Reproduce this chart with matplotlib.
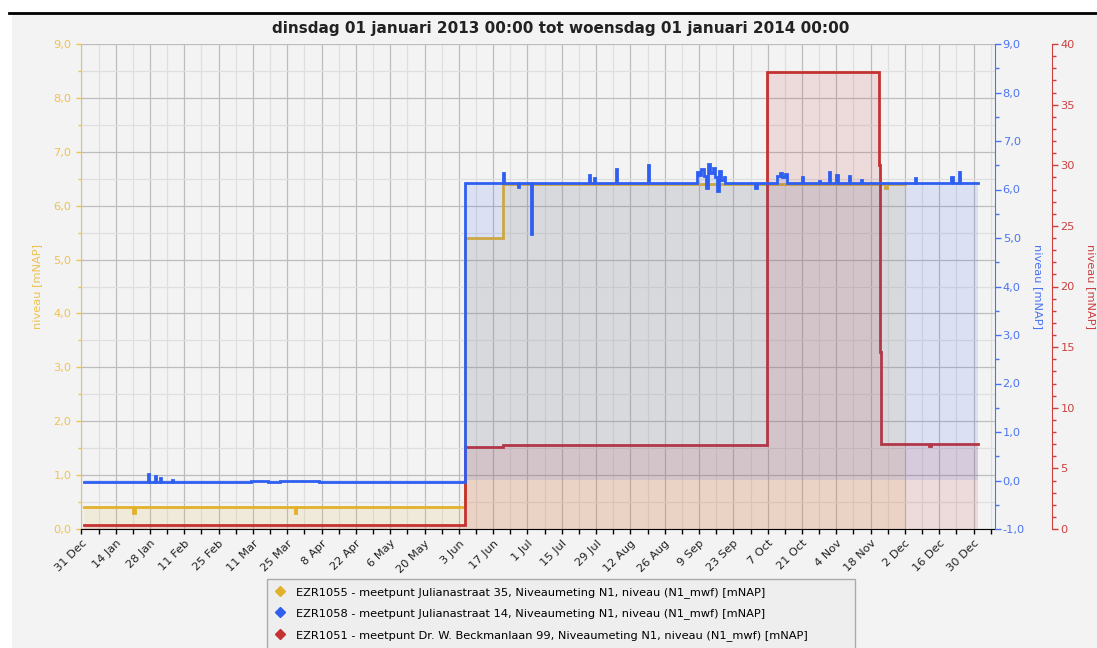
import matplotlib
matplotlib.use("Agg")
import matplotlib.pyplot as plt
import matplotlib.dates as mdates
from matplotlib.ticker import MultipleLocator, FuncFormatter, FixedLocator
from matplotlib.patches import Rectangle
from matplotlib.lines import Line2D
import pandas as pd

plt.rcParams["font.family"] = ["DejaVu Sans"]

TITLE = "dinsdag 01 januari 2013 00:00 tot woensdag 01 januari 2014 00:00"
Y_LABEL = "niveau [mNAP]"
SERIES_NAMES = [
    "EZR1055 - meetpunt Julianastraat 35, Niveaumeting N1, niveau (N1_mwf) [mNAP]",
    "EZR1058 - meetpunt Julianastraat 14, Niveaumeting N1, niveau (N1_mwf) [mNAP]",
    "EZR1051 - meetpunt Dr. W. Beckmanlaan 99, Niveaumeting N1, niveau (N1_mwf) [mNAP]",
]

# --- meetreeksen (stapfunctie: waarde geldt vanaf het tijdstip) ---
yellow_t = ["2013-01-01", "2013-01-21 06:00", "2013-01-21 18:00", "2013-03-28 06:00",
            "2013-03-28 18:00", "2013-06-05 10:00", "2013-06-21 03:00", "2013-11-24 00:00",
            "2013-11-24 12:00", "2013-12-02 00:00"]
yellow_v = [0.40, 0.30, 0.40, 0.30, 0.40, 5.40, 6.40, 6.33, 6.40, 6.40]

blue_t = ["2013-01-01", "2013-01-27 00:00", "2013-01-27 12:00", "2013-01-30 00:00",
          "2013-01-30 12:00", "2013-02-01 00:00", "2013-02-01 12:00", "2013-02-06 00:00",
          "2013-02-06 12:00", "2013-03-10", "2013-03-17", "2013-03-22", "2013-04-07",
          "2013-06-05 10:00", "2013-06-21 00:00", "2013-06-21 12:00", "2013-06-27 00:00",
          "2013-06-27 12:00", "2013-07-02 12:00", "2013-07-02 18:00", "2013-07-26 00:00",
          "2013-07-26 12:00", "2013-07-28 00:00", "2013-07-28 12:00", "2013-08-06 00:00",
          "2013-08-06 12:00", "2013-08-19 00:00", "2013-08-19 12:00", "2013-09-08 00:00",
          "2013-09-09 00:00", "2013-09-10 00:00", "2013-09-11 00:00", "2013-09-12 00:00",
          "2013-09-12 12:00", "2013-09-13 12:00", "2013-09-14 12:00", "2013-09-15 12:00",
          "2013-09-16 12:00", "2013-09-17 00:00", "2013-09-18 00:00", "2013-09-19 00:00",
          "2013-09-19 12:00", "2013-10-02 00:00", "2013-10-02 12:00", "2013-10-11 00:00",
          "2013-10-12 00:00", "2013-10-13 00:00", "2013-10-14 00:00", "2013-10-15 00:00",
          "2013-10-21 00:00", "2013-10-21 12:00", "2013-10-28 00:00", "2013-10-28 12:00",
          "2013-11-01 00:00", "2013-11-01 12:00", "2013-11-04 00:00", "2013-11-04 12:00",
          "2013-11-09 00:00", "2013-11-09 12:00", "2013-11-14 00:00", "2013-11-14 12:00",
          "2013-12-06 00:00", "2013-12-06 12:00", "2013-12-21 00:00", "2013-12-21 12:00",
          "2013-12-24 00:00", "2013-12-24 12:00", "2014-01-01 00:00"]
blue_v = [-0.03, 0.13, -0.03, 0.09, -0.03, 0.05, -0.03, 0.02, -0.03, 0.00, -0.03, 0.00, -0.03,
          6.13, 6.34, 6.13, 6.05, 6.13, 5.08, 6.13, 6.30, 6.13, 6.23, 6.13, 6.42, 6.13, 6.51,
          6.13, 6.36, 6.30, 6.42, 6.28, 6.03, 6.53, 6.35, 6.45, 6.25, 5.97, 6.38, 6.20, 6.25,
          6.13, 6.03, 6.13, 6.28, 6.34, 6.25, 6.32, 6.13, 6.25, 6.13, 6.18, 6.13, 6.36, 6.13,
          6.30, 6.13, 6.28, 6.13, 6.20, 6.13, 6.23, 6.13, 6.25, 6.13, 6.36, 6.13, 6.13]

red_t = ["2013-01-01", "2013-06-05 10:00", "2013-06-21 03:00", "2013-10-06 14:00",
         "2013-11-21 08:00", "2013-11-21 20:00", "2013-11-22 08:00", "2013-12-12 00:00",
         "2013-12-12 12:00", "2014-01-01"]
red_v = [0.33, 6.80, 6.90, 37.7, 30.0, 14.6, 7.0, 6.85, 7.0, 7.0]

YELLOW, YELLOW_AX = "#e2b12c", "#efc250"
BLUE, BLUE_AX = "#2f5ff0", "#4a74f2"
RED, RED_AX = "#c43232", "#cc4040"
BG = "#f3f3f3"

W, H = 1097, 648


def comma(v, _pos):
    return f"{v:.1f}".replace(".", ",")


def day_month(x, _pos):
    d = mdates.num2date(x)
    return f"{d.day} {d.strftime('%b')}"


def draw_series(ax, t, v, color):
    t = pd.to_datetime(t, format="ISO8601").to_numpy()
    ax.fill_between(t, v, 0, step="post", color=color, alpha=0.12, lw=0)
    ax.plot(t, v, drawstyle="steps-post", color=color, lw=2.0, solid_joinstyle="miter")


fig = plt.figure(figsize=(W / 100, H / 100), dpi=100)
fig.patch.set_facecolor("white")
fig.add_artist(Rectangle((12 / W, 0), 1, 1 - 13 / H, transform=fig.transFigure,
                         facecolor=BG, edgecolor="none", zorder=-10))
fig.add_artist(Line2D([9 / W, 1], [1 - 13.3 / H] * 2, transform=fig.transFigure,
                      color="black", lw=2.0))

x0, x1, y0, y1 = 81.4, 995, 44, 529
ax = fig.add_axes([x0 / W, 1 - y1 / H, (x1 - x0) / W, (y1 - y0) / H])
ax3 = ax.twinx()   # rood, eerst aangemaakt zodat blauw erboven ligt
ax2 = ax.twinx()

ax.set_facecolor(BG)
ax.set_axisbelow(True)

draw_series(ax, yellow_t, yellow_v, YELLOW)
draw_series(ax3, red_t, red_v, RED)
draw_series(ax2, blue_t, blue_v, BLUE)

# x-as
ax.set_xlim(pd.Timestamp("2012-12-31"), pd.Timestamp("2014-01-07 18:00"))
major_ticks = pd.date_range("2012-12-31", "2013-12-30", freq="14D")
minor_ticks = pd.date_range("2012-12-31", "2014-01-06", freq="7D")
ax.xaxis.set_major_locator(FixedLocator(mdates.date2num(major_ticks)))
ax.xaxis.set_minor_locator(FixedLocator(mdates.date2num(minor_ticks)))
ax.xaxis.set_major_formatter(FuncFormatter(day_month))
ax.tick_params(axis="x", which="both", length=3.6, width=1, color="black",
               labelsize=8.2, labelcolor="#222222", pad=3)
for lbl in ax.get_xticklabels():
    lbl.set_rotation(45)
    lbl.set_ha("right")
    lbl.set_va("top")
    lbl.set_rotation_mode("anchor")

# linker as (geel)
ax.set_ylim(0, 9)
ax.yaxis.set_major_locator(MultipleLocator(1))
ax.yaxis.set_minor_locator(MultipleLocator(0.5))
ax.yaxis.set_major_formatter(FuncFormatter(comma))
ax.tick_params(axis="y", which="major", length=3.6, width=1, color=YELLOW_AX,
               labelcolor=YELLOW_AX, labelsize=8.2)
ax.tick_params(axis="y", which="minor", length=2.2, width=1, color=YELLOW_AX)
ax.set_ylabel(Y_LABEL, color=YELLOW_AX, fontsize=8.2, va="center")
ax.yaxis.set_label_coords((37 - x0) / (x1 - x0), 0.5)

ax.grid(True, which="major", color="#bdbdbd", lw=0.9)
ax.grid(True, which="minor", color="#dfdfdf", lw=0.9)

for a in (ax, ax2, ax3):
    for s in a.spines.values():
        s.set_visible(False)
ax.spines["left"].set_visible(True)
ax.spines["left"].set_color(YELLOW_AX)
ax.spines["bottom"].set_visible(True)
ax.spines["bottom"].set_color("black")

# rechter as (blauw)
ax2.set_ylim(-1, 9)
ax2.yaxis.set_major_locator(MultipleLocator(1))
ax2.yaxis.set_minor_locator(MultipleLocator(0.5))
ax2.yaxis.set_major_formatter(FuncFormatter(comma))
ax2.spines["right"].set_visible(True)
ax2.spines["right"].set_color(BLUE_AX)
ax2.tick_params(axis="y", which="major", length=4, width=1, color=BLUE_AX,
                labelcolor=BLUE_AX, labelsize=8.2, pad=1.5)
ax2.tick_params(axis="y", which="minor", length=3, width=1, color=BLUE_AX)
ax2.set_ylabel(Y_LABEL, color=BLUE_AX, fontsize=8.2, rotation=270, va="center")
ax2.yaxis.set_label_coords((1038 - x0) / (x1 - x0), 0.5)

# tweede rechter as (rood)
ax3.set_ylim(0, 40)
ax3.yaxis.set_major_locator(MultipleLocator(5))
ax3.yaxis.set_minor_locator(MultipleLocator(1))
ax3.spines["right"].set_visible(True)
ax3.spines["right"].set_position(("axes", (1052.3 - x0) / (x1 - x0)))
ax3.spines["right"].set_color(RED_AX)
ax3.tick_params(axis="y", which="major", length=4.3, width=1, color=RED_AX,
                labelcolor=RED_AX, labelsize=8.2, pad=1.5)
ax3.tick_params(axis="y", which="minor", length=3, width=1, color=RED_AX)
ax3.set_ylabel(Y_LABEL, color=RED_AX, fontsize=8.2, rotation=270, va="center")
ax3.yaxis.set_label_coords((1090.5 - x0) / (x1 - x0), 0.5)

fig.text(560.5 / W, 1 - 28 / H, TITLE, ha="center", va="center",
         fontsize=11, fontweight="bold", color="#222222")

handles = [Line2D([], [], marker="D", ls="none", color=c, markersize=5.5)
           for c in (YELLOW, BLUE, RED)]
leg = fig.legend(handles, SERIES_NAMES, loc="upper left",
                 bbox_to_anchor=(266.7 / W, 1 - 579.3 / H, (855 - 266.7) / W, 0.001),
                 mode="expand", borderaxespad=0, fontsize=8.2, frameon=True,
                 fancybox=False, handlelength=1.0, handletextpad=0.9,
                 labelspacing=0.96, borderpad=0.7)
leg.get_frame().set_facecolor("#ededed")
leg.get_frame().set_edgecolor("#9a9a9a")
leg.get_frame().set_linewidth(1.0)

fig.savefig("out.png", dpi=100)
